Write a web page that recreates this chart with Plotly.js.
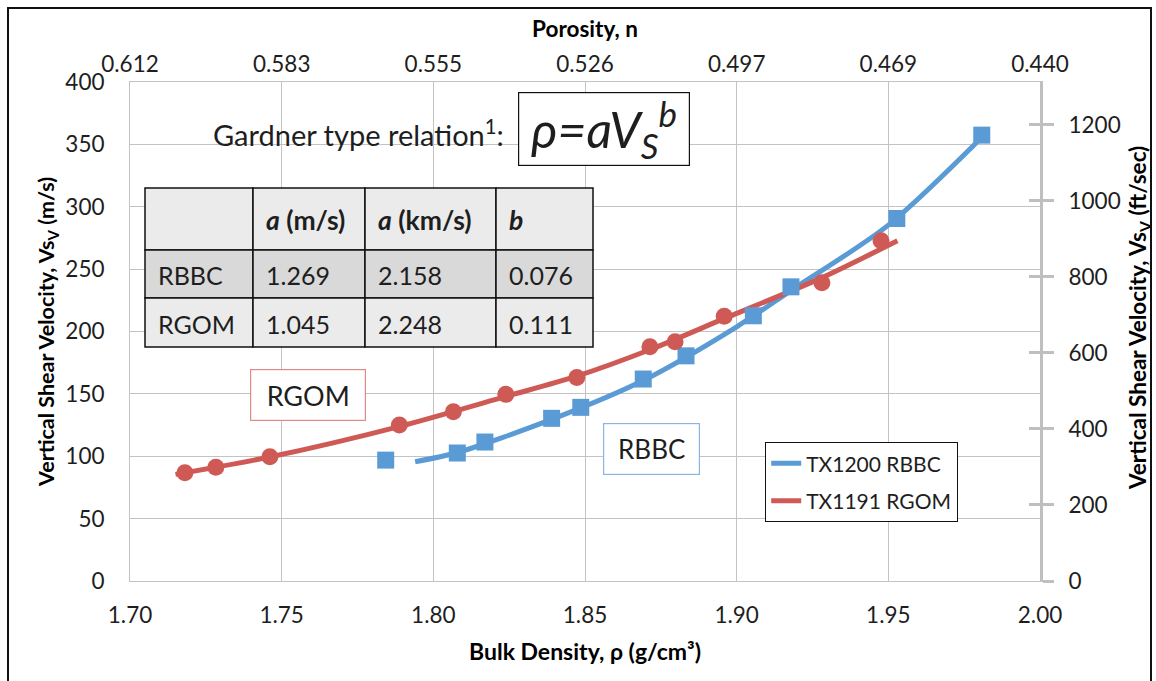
<!DOCTYPE html>
<html>
<head>
<meta charset="utf-8">
<script src="https://cdn.plot.ly/plotly-3.0.1.min.js"></script>
<style>
  html, body { margin: 0; padding: 0; background: #fff; overflow: hidden; }
  #chart { position: absolute; left: 0; top: 0; width: 1156px; height: 681px; }
  #frame { position: absolute; left: 7px; top: 7px; width: 1141px; height: 700px;
           border: 2px solid #111; pointer-events: none; }
</style>
</head>
<body>
<div id="chart"></div>
<div id="frame"></div>
<script>
// ---------------- data ----------------
const rbbcRho = [1.7843, 1.8079, 1.8170, 1.8390, 1.8486, 1.8692, 1.8833, 1.9055, 1.9179, 1.9528, 1.9808];
const rbbcVs  = [96.9, 102.6, 111.4, 130.4, 139.2, 161.9, 180.5, 212.6, 235.8, 290.6, 357.4];
const rgomRho = [1.7181, 1.7283, 1.7461, 1.7888, 1.8066, 1.8239, 1.8473, 1.8714, 1.8797, 1.8959, 1.9281, 1.9476];
const rgomVs  = [86.8, 91.1, 99.6, 125.0, 135.7, 149.6, 163.2, 187.7, 191.8, 212.3, 239.0, 272.7];

// fitted (Gardner type) curves as drawn
const rbbcFitRho = [1.794, 1.808, 1.839, 1.869, 1.900, 1.918, 1.950, 1.982];
const rbbcFitVs  = [95.6, 103.0, 129.5, 160.5, 203.8, 233.0, 285.3, 358.5];
const rgomFitRho = [1.715, 1.746, 1.789, 1.824, 1.847, 1.872, 1.896, 1.928, 1.953];
const rgomFitVs  = [85.5, 99.4, 124.0, 148.0, 164.0, 186.0, 210.5, 243.0, 272.7];

const seriesNames = ["TX1200 RBBC", "TX1191 RGOM"];

// axes
const densityTicks = [1.70, 1.75, 1.80, 1.85, 1.90, 1.95, 2.00];
const porosityLabels = ["0.612", "0.583", "0.555", "0.526", "0.497", "0.469", "0.440"];
const ftTicks = [0, 200, 400, 600, 800, 1000, 1200];
const M_TO_FT = 3.28084;
const VS_MAX = 400;

// Gardner parameter table
const tableHeader = ["", "<b><i>a</i> (m/s)</b>", "<b><i>a</i> (km/s)</b>", "<b><i>b</i></b>"];
const tableRows = [
  ["RBBC", "1.269", "2.158", "0.076"],
  ["RGOM", "1.045", "2.248", "0.111"]
];

// ---------------- styling ----------------
const BLUE = "#5b9bd5";
const RED = "#cf5a55";
const GRID = "#c3c3c3";
const FONT = "Lato, 'Open Sans', sans-serif";
const TXT = "#1e1e1e";
const TICK = 22.5;
const TITLE = 22;

const W = 1156, H = 681;
const ML = 130, MR = 116, MT = 82, MB = 100;
const PW = W - ML - MR, PH = H - MT - MB;
const fx = p => (p - ML) / PW;          // pixel -> paper x
const fy = p => (H - MB - p) / PH;      // pixel -> paper y

const traces = [
  { x: rbbcFitRho, y: rbbcFitVs, mode: "lines", name: seriesNames[0], legendgroup: "a",
    line: { color: BLUE, width: 5, shape: "spline", smoothing: 0.8 }, hoverinfo: "skip" },
  { x: rgomFitRho, y: rgomFitVs, mode: "lines", name: seriesNames[1], legendgroup: "b",
    line: { color: RED, width: 5, shape: "spline", smoothing: 0.8 }, hoverinfo: "skip" },
  { x: rbbcRho, y: rbbcVs, mode: "markers", showlegend: false, name: seriesNames[0], legendgroup: "a",
    marker: { symbol: "square", size: 17, color: BLUE } },
  { x: rgomRho, y: rgomVs, mode: "markers", showlegend: false, name: seriesNames[1], legendgroup: "b",
    marker: { symbol: "circle", size: 17, color: RED } },
  { x: [], y: [], xaxis: "x2", yaxis: "y", showlegend: false },
  { x: [], y: [], xaxis: "x", yaxis: "y2", showlegend: false },
  { x: [], y: [], xaxis: "x", yaxis: "y3", showlegend: false }
];

// ---- table as shapes + annotations ----
const colEdges = [145, 253, 365, 496, 593];
const rowEdges = [188, 250, 298, 347];
const rowFill = ["#ebebeb", "#d9d9d9", "#ebebeb"];
const shapes = [];
const annotations = [];
for (let r = 0; r < 3; r++) {
  for (let c = 0; c < 4; c++) {
    shapes.push({ type: "rect", xref: "paper", yref: "paper", layer: "above",
      x0: fx(colEdges[c]), x1: fx(colEdges[c + 1]), y0: fy(rowEdges[r + 1]), y1: fy(rowEdges[r]),
      fillcolor: rowFill[r], line: { color: "#111", width: 1.5 } });
    const txt = r === 0 ? tableHeader[c] : tableRows[r - 1][c];
    if (txt) {
      annotations.push({ xref: "paper", yref: "paper", showarrow: false,
        x: fx(colEdges[c] + 11), y: fy((rowEdges[r] + rowEdges[r + 1]) / 2 + 1),
        xanchor: "left", yanchor: "middle", text: txt,
        font: { family: FONT, size: r === 0 ? 26.5 : 25, color: TXT } });
    }
  }
}

annotations.push(
  { xref: "paper", yref: "paper", showarrow: false, x: fx(211), y: fy(133),
    xanchor: "left", yanchor: "middle", text: "Gardner type relation<sup>1</sup>:",
    font: { family: FONT, size: 29, color: TXT } },
  { xref: "paper", yref: "paper", showarrow: false, x: fx(604), y: fy(129),
    xanchor: "center", yanchor: "middle", width: 170, height: 72,
    text: "<i>ρ=aV<sub>S</sub><sup>b</sup></i>",
    bordercolor: "#111", borderwidth: 1.2, bgcolor: "#fff", borderpad: 0,
    font: { family: FONT, size: 50, color: TXT } },
  { xref: "paper", yref: "paper", showarrow: false, x: fx(308), y: fy(395),
    xanchor: "center", yanchor: "middle", width: 112, height: 48,
    text: "RGOM", bordercolor: "#e08a86", borderwidth: 1.2, bgcolor: "#fff",
    font: { family: FONT, size: 27, color: TXT } },
  { xref: "paper", yref: "paper", showarrow: false, x: fx(651), y: fy(449),
    xanchor: "center", yanchor: "middle", width: 93, height: 48,
    text: "RBBC", bordercolor: "#8db4e0", borderwidth: 1.2, bgcolor: "#fff",
    font: { family: FONT, size: 26, color: TXT } },
  { xref: "paper", yref: "paper", showarrow: false, x: fx(1139), y: fy(318),
    xanchor: "center", yanchor: "middle", textangle: -90,
    text: "<b>Vertical Shear Velocity, Vs<sub>V</sub> (ft/sec)</b>",
    font: { family: FONT, size: 22.5, color: "#000" } }
);

const layout = {
  width: W, height: H,
  margin: { l: ML, r: MR, t: MT, b: MB },
  paper_bgcolor: "#fff", plot_bgcolor: "#fff",
  font: { family: FONT, color: TXT },
  showlegend: true,
  legend: { x: fx(765), y: fy(442), xanchor: "left", yanchor: "top",
    bgcolor: "#fff", bordercolor: "#111", borderwidth: 1.2, traceorder: "grouped",
    font: { family: FONT, size: 21, color: TXT }, tracegroupgap: 7 },
  xaxis: {
    range: [1.70, 2.00], tickvals: densityTicks, ticktext: densityTicks.map(v => v.toFixed(2)),
    showgrid: true, gridcolor: GRID, gridwidth: 1, zeroline: false,
    showline: true, linecolor: GRID, linewidth: 1, ticks: "", ticklabelstandoff: 14,
    tickfont: { family: FONT, size: TICK, color: TXT },
    title: { text: "<b>Bulk Density, ρ (g/cm³)</b>", standoff: 16,
      font: { family: FONT, size: 23, color: "#000" } }
  },
  xaxis2: {
    overlaying: "x", side: "top", range: [1.70, 2.00], tickvals: densityTicks, ticktext: porosityLabels,
    showgrid: false, zeroline: false, showline: true, linecolor: GRID, linewidth: 1, ticks: "",
    ticklabelstandoff: 0,
    tickfont: { family: FONT, size: TICK, color: TXT },
    title: { text: "<b>Porosity, n</b>", standoff: 6, font: { family: FONT, size: 22.5, color: "#000" } }
  },
  yaxis: {
    range: [0, VS_MAX], dtick: 50, showgrid: true, gridcolor: GRID, gridwidth: 1, zeroline: false,
    showline: true, linecolor: GRID, linewidth: 1, ticks: "", ticklabelstandoff: 20,
    tickfont: { family: FONT, size: TICK, color: TXT },
    title: { text: "<b>Vertical Shear Velocity, Vs<sub>V</sub> (m/s)</b>", standoff: 4,
      font: { family: FONT, size: 21.5, color: "#000" } }
  },
  yaxis2: {
    overlaying: "y", side: "right", range: [0, VS_MAX * M_TO_FT], tickvals: ftTicks,
    showgrid: false, zeroline: false, showline: true, linecolor: "#bfbfbf", linewidth: 3,
    ticks: "outside", ticklen: 11, tickwidth: 3, tickcolor: "#bfbfbf", ticklabelstandoff: 10,
    tickfont: { family: FONT, size: TICK, color: TXT }
  },
  yaxis3: {
    overlaying: "y", side: "right", range: [0, VS_MAX * M_TO_FT], tickvals: ftTicks,
    showgrid: false, zeroline: false, showline: false, showticklabels: false,
    ticks: "inside", ticklen: 11, tickwidth: 3, tickcolor: "#bfbfbf"
  },
  shapes: shapes,
  annotations: annotations
};

Plotly.newPlot("chart", traces, layout, { staticPlot: true, displayModeBar: false });
</script>
</body>
</html>
